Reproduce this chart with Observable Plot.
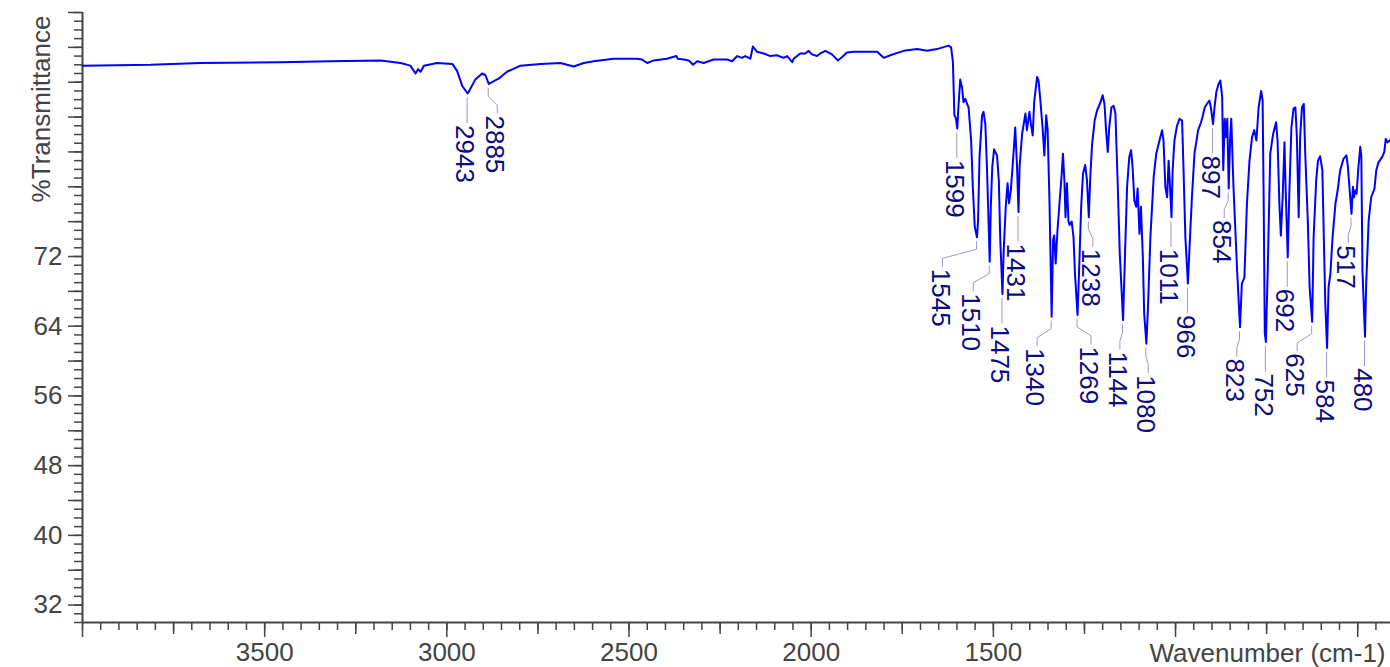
<!DOCTYPE html>
<html>
<head>
<meta charset="utf-8">
<script src="https://cdn.jsdelivr.net/npm/d3@7"></script>
<script src="https://cdn.jsdelivr.net/npm/@observablehq/plot@0.6"></script>
<style>
  html, body { margin: 0; padding: 0; background: #ffffff; }
  #chart { width: 1390px; height: 667px; overflow: hidden; }
</style>
</head>
<body>
<div id="chart"></div>
<script>
// ---- Data ----
const wavenumber = [4000,3813,3676,3457,3319,3182,3127,3100,3086,3079,3072,3063,3027,2985,2972,2958,2943,2940,2922,2903,2894,2885,2876,2858,2835,2798,2743,2688,2652,2624,2597,2542,2478,2464,2450,2432,2396,2370,2366,2350,2336,2324,2313,2295,2268,2231,2217,2203,2190,2181,2167,2160,2149,2130,2112,2094,2076,2066,2052,2048,2030,2016,2007,1998,1984,1975,1961,1943,1927,1915,1902,1883,1819,1801,1783,1746,1709,1682,1655,1623,1616,1611,1607,1603,1599,1596,1591,1586,1582,1577,1572,1568,1561,1556,1551,1545,1542,1538,1531,1527,1522,1517,1510,1507,1503,1498,1490,1485,1481,1475,1472,1466,1461,1457,1452,1444,1440,1435,1431,1428,1421,1412,1408,1401,1397,1392,1388,1380,1376,1371,1365,1360,1355,1351,1346,1340,1336,1333,1329,1324,1318,1313,1309,1305,1302,1298,1294,1291,1285,1280,1276,1269,1265,1259,1254,1248,1243,1238,1234,1229,1222,1215,1206,1200,1195,1191,1186,1182,1176,1170,1165,1159,1153,1144,1140,1133,1127,1122,1118,1113,1108,1104,1099,1095,1090,1086,1080,1076,1069,1060,1053,1044,1037,1033,1028,1023,1019,1016,1011,1008,1003,996,989,982,978,973,966,962,955,948,938,930,926,920,914,907,903,897,893,888,882,877,872,869,865,861,858,854,850,847,841,831,823,818,811,804,797,790,784,778,772,765,761,758,755,752,747,740,732,724,720,715,711,706,701,698,692,688,682,676,671,667,662,658,653,648,644,637,632,625,621,614,609,603,597,594,589,584,580,575,569,561,555,548,539,531,527,517,513,510,506,503,498,493,490,487,480,477,470,463,454,449,443,433,427,423,418,410];
const transmittance = [93.9,94.0,94.2,94.3,94.4,94.5,94.2,93.9,93.0,93.5,93.2,93.9,94.2,94.1,93.3,91.6,90.7,90.9,92.3,93.0,92.8,91.8,92.0,92.4,93.2,93.9,94.1,94.2,93.8,94.2,94.4,94.7,94.7,94.6,94.2,94.5,94.7,95.0,94.7,94.6,94.5,94.0,94.4,94.2,94.6,94.6,94.4,95.0,94.8,95.0,94.7,96.1,95.5,95.3,95.0,95.1,94.8,95.0,94.3,94.7,95.3,95.3,95.6,95.2,95.0,95.3,95.6,95.2,94.5,94.9,95.4,95.5,95.5,94.8,95.1,95.6,95.8,95.6,95.8,96.2,96.0,94.3,88.2,87.9,86.7,89.1,92.3,91.4,89.7,90.1,89.5,89.1,85.3,79.6,75.4,74.2,76.1,83.4,88.2,88.6,87.2,81.5,71.4,77.7,82.3,84.3,83.6,80.7,73.9,67.7,72.3,77.7,80.4,78.1,79.6,84.2,86.8,82.3,77.1,82.3,86.1,88.4,86.5,88.6,87.2,85.9,89.7,92.6,92.2,89.9,86.8,83.6,88.2,86.5,78.4,65.1,73.9,74.4,71.2,75.0,78.4,81.1,83.8,80.7,76.5,80.4,76.1,75.6,76.0,74.2,70.0,65.3,70.0,77.7,81.5,82.5,80.7,76.5,81.1,84.9,87.6,88.8,89.7,90.5,89.5,86.7,84.0,86.8,89.1,89.3,88.4,80.7,72.3,64.7,70.4,80.0,83.4,84.2,82.3,78.4,77.7,79.8,74.6,77.7,72.3,65.4,62.0,65.8,74.2,81.1,83.8,85.3,86.5,85.3,80.0,78.8,83.0,80.7,76.5,81.9,85.3,87.0,87.8,87.6,81.9,74.2,68.9,72.7,78.8,83.8,86.5,87.4,88.0,89.1,89.5,89.9,89.1,87.2,89.1,90.9,91.8,92.2,90.3,81.9,87.8,85.7,87.8,79.8,85.7,87.8,80.0,70.4,63.9,68.9,69.6,78.1,83.0,85.7,86.5,85.3,89.1,91.0,89.9,78.1,63.2,62.2,70.4,83.8,86.1,87.4,85.3,78.1,74.4,78.8,85.1,80.0,71.9,78.8,86.8,89.0,89.1,85.7,76.5,85.7,89.1,89.5,83.8,76.1,68.5,64.5,74.2,80.7,83.0,83.5,81.9,76.1,66.6,61.5,68.5,70.0,74.2,78.1,79.6,81.9,83.2,83.6,82.3,76.9,80.0,78.8,79.6,79.2,82.3,84.6,83.4,70.4,62.8,68.5,76.1,78.8,79.8,81.9,82.8,83.4,84.0,85.5,85.1,85.4];

// peak annotations (wavenumbers that are labelled)
const peakLabels = [2943,2885,1599,1545,1510,1475,1431,1340,1269,1238,1144,1080,1011,966,897,854,823,752,692,625,584,517,480];
// horizontal nudge of each label away from its peak (layout, in px)
const labelNudge = [0,9,0,-34,-16,0,0,-14,14,4.5,-2.7,2.3,0,0,0,-4,-2.7,0,0,-14.5,0,-2.7,0];

// axis tick labels
const xTickLabels = [3500,3000,2500,2000,1500];
const yTickLabels = [32,40,48,56,64,72];
const xLabel = "Wavenumber (cm-1)";
const yLabel = "%Transmittance";

// ---- build ----
const spectrum = wavenumber.map((w, i) => ({w, t: transmittance[i]}));
const tAt = new Map(spectrum.map(d => [d.w, d.t]));
const peaks = peakLabels.map((w, i) => ({w, t: tAt.get(w), nudge: labelNudge[i]}));

const axisColor = "#444444";

function peakAnnotations(index, scales) {
  const g = d3.create("svg:g");
  for (const p of peaks) {
    const x0 = scales.x(p.w);
    const y0 = scales.y(p.t);
    const x1 = x0 + p.nudge;
    const a = y0 + 4.5;
    const d = Math.abs(p.nudge) > 0.5
      ? `M${x0},${a}V${a + 8}L${x1},${a + 17}V${a + 25.5}`
      : `M${x0},${a}V${a + 25.5}`;
    g.append("path")
      .attr("d", d)
      .attr("fill", "none")
      .attr("stroke", "#9a9acb")
      .attr("stroke-width", 1);
    g.append("text")
      .attr("transform", `translate(${x1 - 1.5},${a + 27.5}) rotate(90)`)
      .attr("text-anchor", "start")
      .attr("dy", "0.36em")
      .attr("fill", "#0b0b82")
      .attr("font-size", 26)
      .attr("font-family", "'Liberation Sans', Arial, sans-serif")
      .text(String(p.w));
  }
  return g.node();
}

const chart = Plot.plot({
  width: 1390,
  height: 667,
  marginLeft: 82,
  marginRight: 0,
  marginTop: 12,
  marginBottom: 45,
  style: {
    fontSize: "26px",
    fontFamily: "'Liberation Sans', Arial, sans-serif",
    color: axisColor,
    background: "#ffffff",
    overflow: "visible"
  },
  x: {domain: [4000, 410], label: null},
  y: {domain: [30, 100], label: null},
  marks: [
    // x ticks: minor / medium / major
    Plot.axisX(d3.range(450, 4001, 50), {tickSize: 8, strokeWidth: 1.5, tickFormat: () => "", label: null}),
    Plot.axisX(d3.range(750, 4000, 500), {tickSize: 12, strokeWidth: 1.5, tickFormat: () => "", label: null}),
    Plot.axisX(d3.range(500, 4001, 500), {tickSize: 15, tickPadding: 5, strokeWidth: 1.5,
      tickFormat: d => xTickLabels.includes(d) ? String(d) : "", label: null}),
    // y ticks: minor / major
    Plot.axisY(d3.range(30, 101, 1), {tickSize: 8, strokeWidth: 1.5, tickFormat: () => "", label: null}),
    Plot.axisY(d3.range(32, 101, 4), {tickSize: 14, tickPadding: 6, strokeWidth: 1.5,
      tickFormat: d => yTickLabels.includes(d) ? String(d) : "", label: null}),
    // axis lines
    Plot.ruleY([30], {stroke: axisColor, strokeWidth: 2}),
    Plot.ruleX([4000], {stroke: axisColor, strokeWidth: 2}),
    // axis titles
    Plot.text([xLabel], {text: d => d, frameAnchor: "bottom-right", dx: -5, dy: 21,
      textAnchor: "end", lineAnchor: "top", fill: axisColor}),
    Plot.text([yLabel], {text: d => d, frameAnchor: "top-left", dx: -41, dy: 3,
      rotate: -90, textAnchor: "end", lineAnchor: "middle", fill: axisColor}),
    // spectrum
    Plot.line(spectrum, {x: "w", y: "t", stroke: "#0000ff", strokeWidth: 2, strokeLinejoin: "round"}),
    // peak labels
    peakAnnotations
  ]
});

document.getElementById("chart").appendChild(chart);
</script>
</body>
</html>
